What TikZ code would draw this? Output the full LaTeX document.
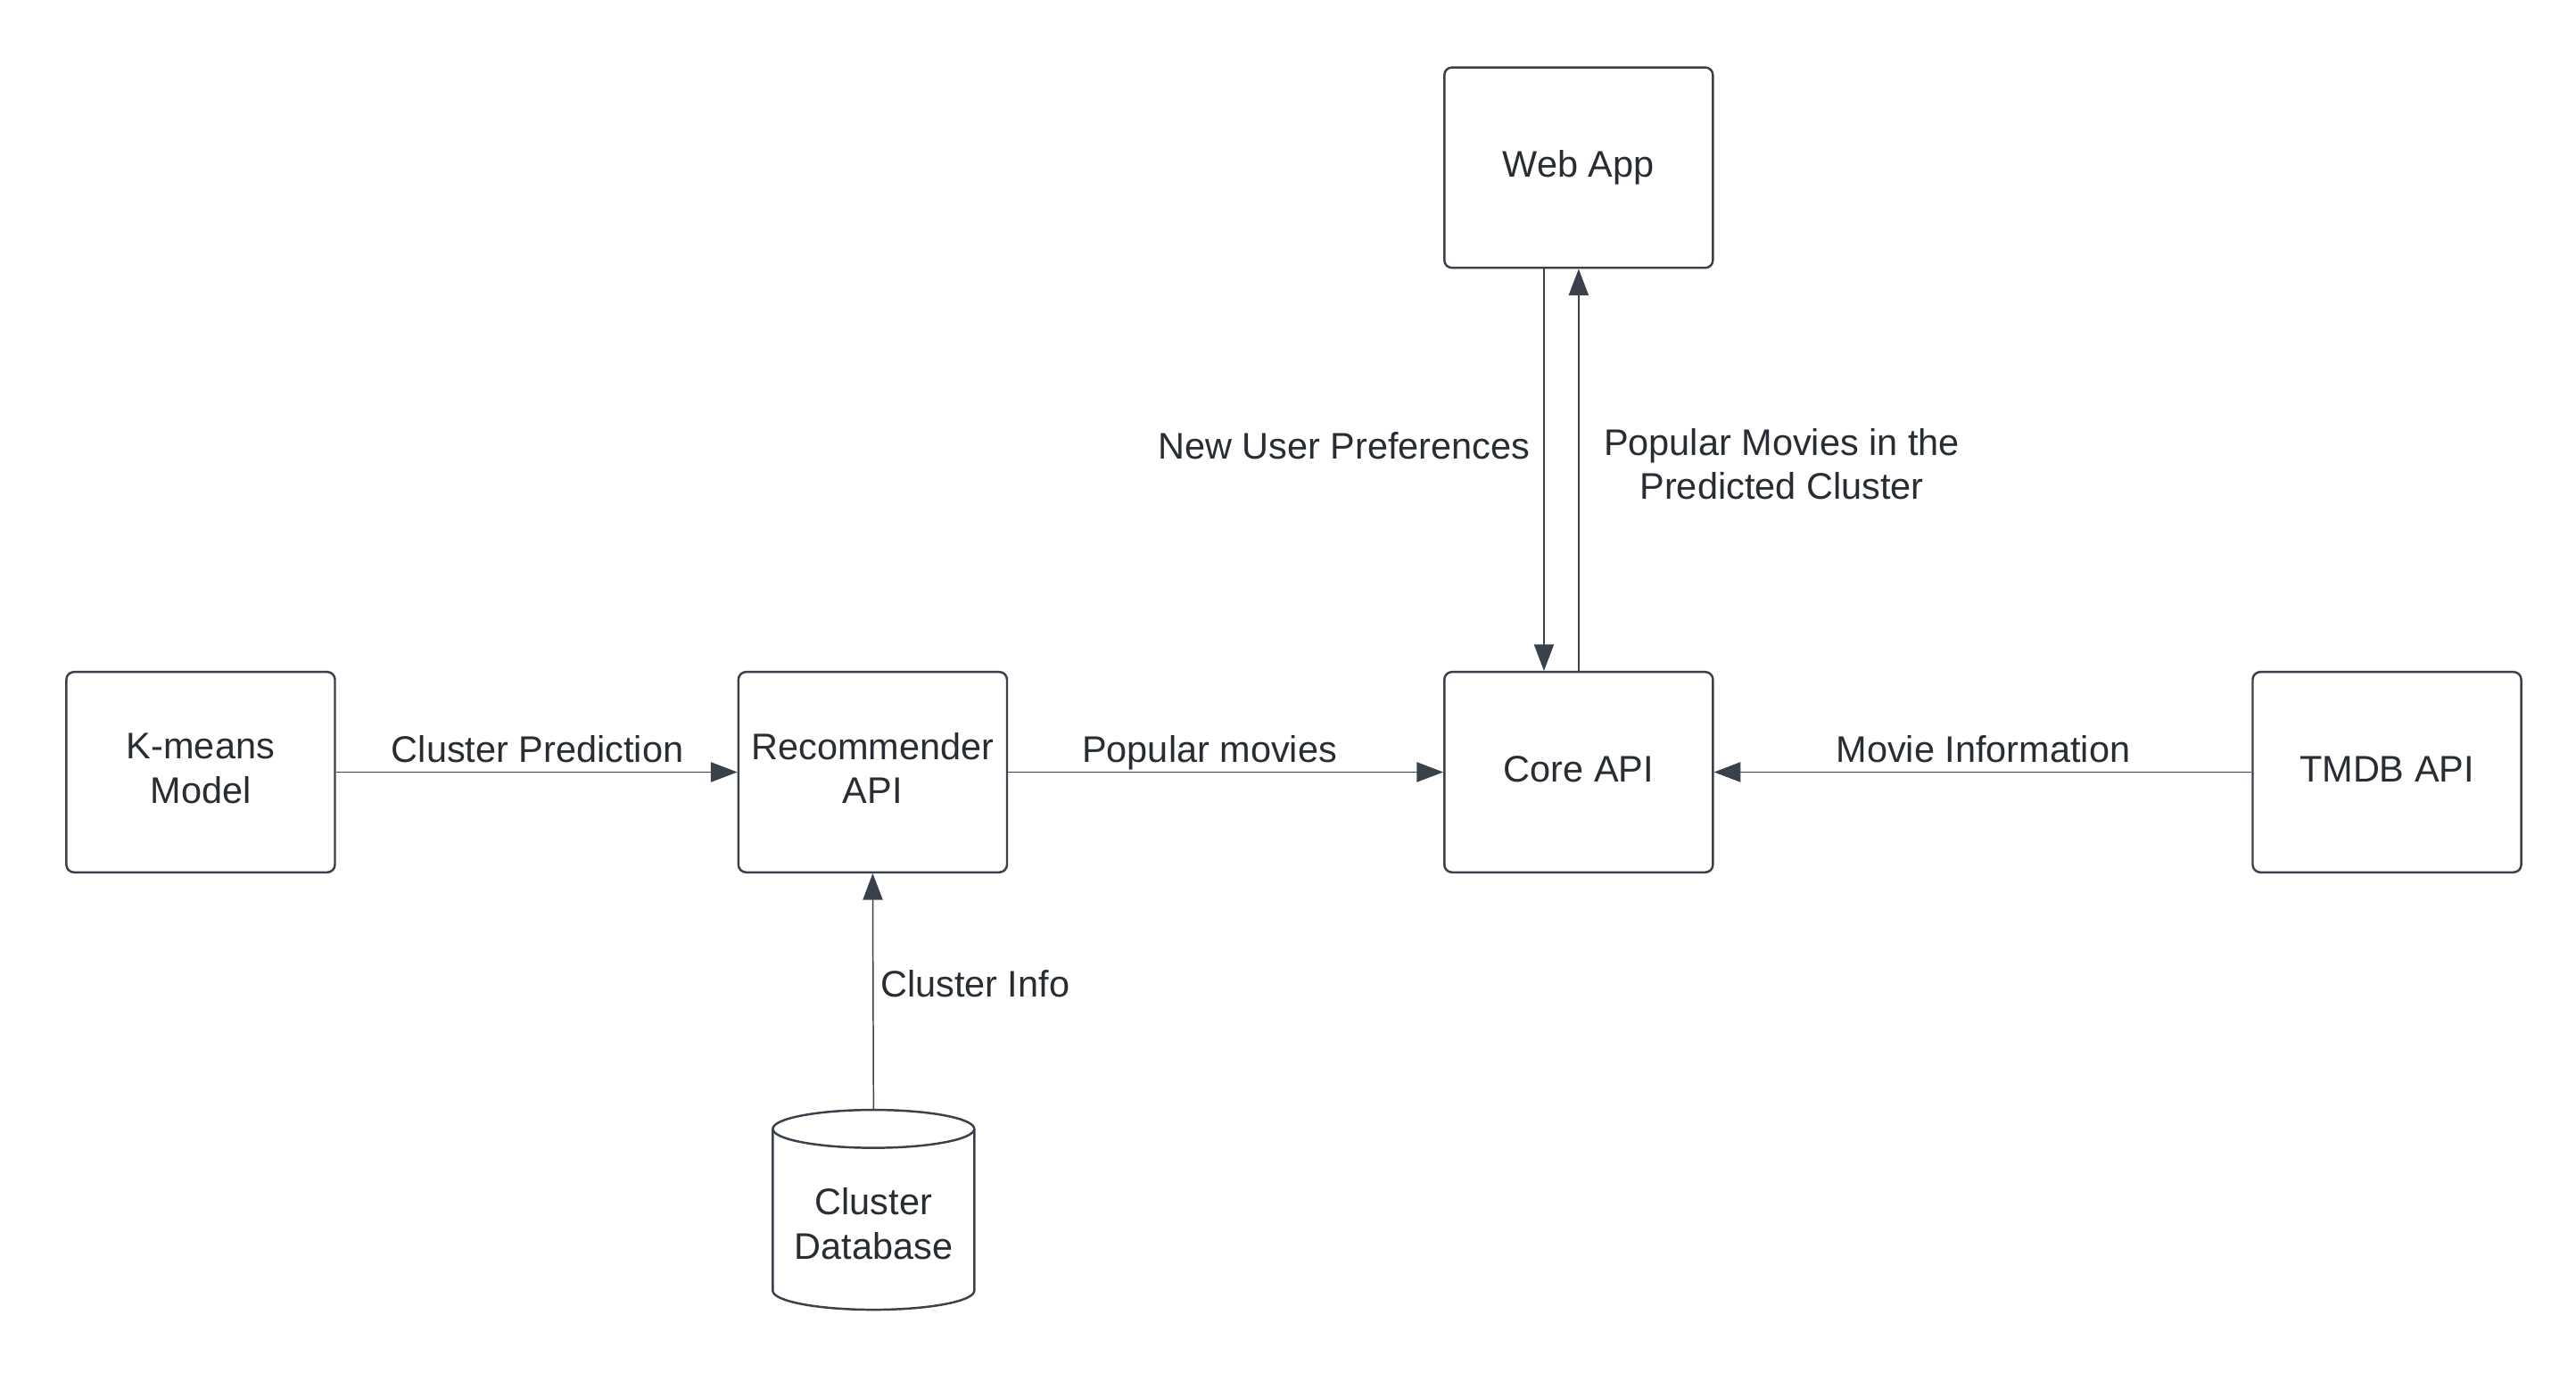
\documentclass[tikz,border=0pt]{standalone}
\usepackage{fontspec}
\setmainfont{Liberation Sans}
\usetikzlibrary{arrows.meta}
\definecolor{ln}{HTML}{3A414A}
\definecolor{tx}{HTML}{282C33}
\begin{document}
\begin{tikzpicture}[x=0.75pt,y=-0.75pt,
 box/.style={draw=ln,line width=1pt,rounded corners=3.5pt,minimum width=122pt,minimum height=91pt,inner sep=0pt,align=center,text=tx,font=\fontsize{16.8}{20}\selectfont},
 lbl/.style={text=tx,font=\fontsize{16.8}{20}\selectfont,align=center,inner sep=0pt},
 one/.style={text height=12.2pt,text depth=3.6pt},
 conn/.style={draw=ln,line width=0.6pt,-{Triangle[length=12pt,width=9pt]}}]
\fill[white] (0,0) rectangle (1560,830.8);
\useasboundingbox (0,0) rectangle (1560,830.8);
% boxes
\node[box] (km) at (121.5,467.5) {K-means\\Model\vphantom{g}};
\node[box] (rec) at (528.5,467.5) {Recommender\\API\vphantom{g}};
\node[box,one] (core) at (956,467.5) {Core API};
\node[box,one] (tmdb) at (1445.5,467.5) {TMDB API};
\node[box,one] (web) at (956,101.5) {Web App};
% cylinder
\draw[ln,line width=1pt] (468,683.5) -- (468,781.5) arc[start angle=180,end angle=0,x radius=61,y radius=11.5] -- (590,683.5);
\draw[ln,line width=1pt] (529,683.5) ellipse [x radius=61,y radius=11.5];
\coordinate (dbtop) at (529,672);
\node[lbl] (db) at (529,741) {Cluster\\Database};
% connectors
\draw[conn] (km.east) -- (rec.west);
\draw[conn] (rec.east) -- (core.west);
\draw[conn] (tmdb.west) -- (core.east);
\draw[conn] (dbtop) -- (rec.south);
\draw[conn] ([xshift=-15.75pt]web.south) -- ([xshift=-15.75pt]core.north);
\draw[conn] (core.north) -- (web.south);
% labels
\node[lbl,one] (l1) at (325.5,456) {Cluster Prediction};
\node[lbl,one] (l2) at (732.5,456) {Popular movies};
\node[lbl,one] (l3) at (1201,456) {Movie Information};
\node[lbl,one] (l4) at (590.5,598) {Cluster Info};
\node[lbl,one] (l5) at (814,272) {New User Preferences};
\node[lbl] (l6) at (1079,281) {Popular Movies in the\\Predicted Cluster};
\end{tikzpicture}
\end{document}
